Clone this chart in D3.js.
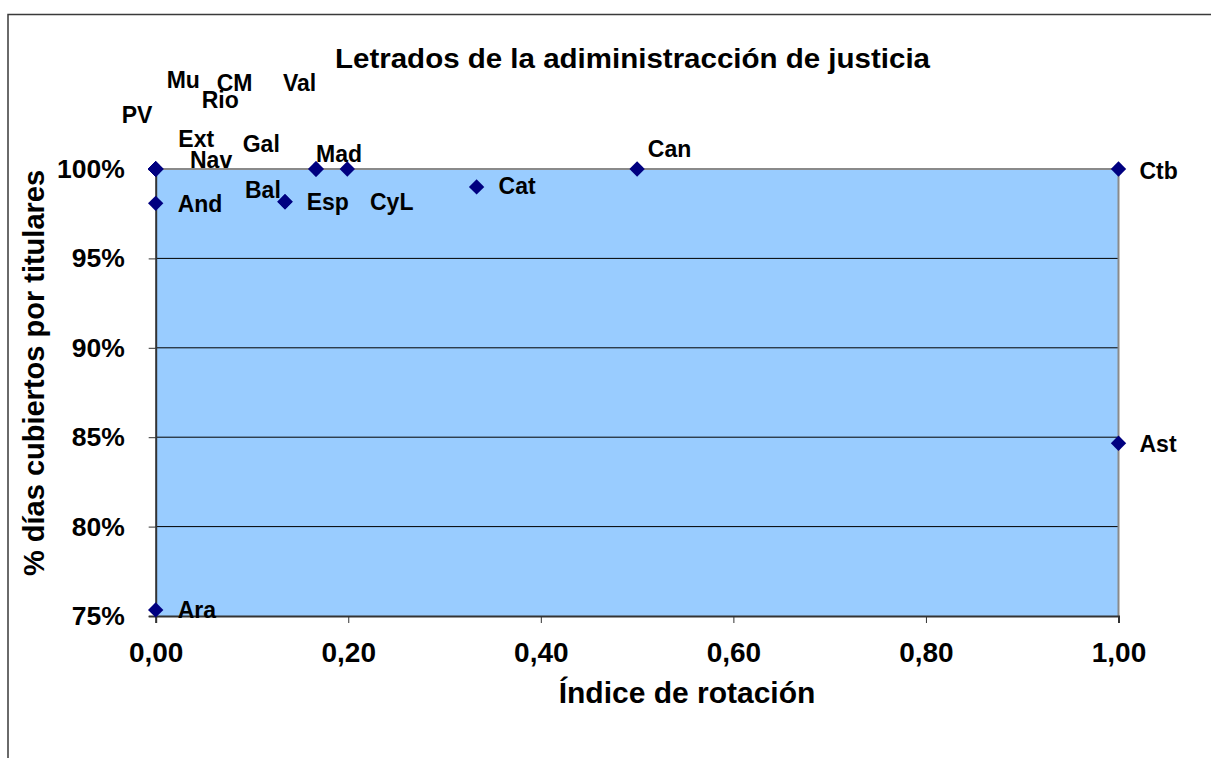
<!DOCTYPE html>
<html>
<head>
<meta charset="utf-8">
<script src="https://cdn.jsdelivr.net/npm/d3@7"></script>
<style>
  html, body { margin: 0; padding: 0; background: #ffffff; }
  svg { display: block; }
  text { font-family: "Liberation Sans", Arial, sans-serif; font-weight: bold; fill: #000; }
</style>
</head>
<body>
<svg id="chart" width="1211" height="758"></svg>
<script>
// Regions (data labels), rotation index and % of days covered by permanent staff
const regions  = ["PV", "Mu", "Ext", "Nav", "Rio", "CM", "Gal", "Val", "Mad", "CyL", "Bal", "Esp", "And", "Cat", "Can", "Ctb", "Ast", "Ara"];
const rotation = [0, 0, 0, 0, 0, 0, 0.1665, 0.1665, 0.1665, 0.199, 0.1343, 0.1343, 0, 0.3333, 0.5, 1, 1, 0];
const covered  = [1, 1, 1, 1, 1, 1, 1, 1, 1, 1, 0.9817, 0.9817, 0.9808, 0.990, 1, 1, 0.8466, 0.7534];

// Label placement relative to each point (pixels)
const labelDx = [-34, 11, 22.6, 34.3, 46, 61, -73.3, -33, 0, 22.7, -40, 21.7, 22, 22, 10.7, 21, 21, 22];
const labelDy = [-46.3, -81, -22.3, -1, -61, -78.3, -17.3, -78.3, -7.3, 41, -3.4, 8.3, 8.4, 7.3, -12.3, 10, 8.4, 8.4];

const xTicks = [0, 0.2, 0.4, 0.6, 0.8, 1.0];
const yTicks = [0.75, 0.80, 0.85, 0.90, 0.95, 1.00];

const title  = "Letrados de la adiministracción de justicia";
const xTitle = "Índice de rotación";
const yTitle = "% días cubiertos por titulares";

const svg = d3.select("#chart");
const plot = { left: 155.7, right: 1118.5, top: 169, bottom: 616 };

const x = d3.scaleLinear().domain([0, 1]).range([plot.left, plot.right]);
const y = d3.scaleLinear().domain([0.75, 1]).range([plot.bottom, plot.top]);

const fmtX = v => d3.format(".2f")(v).replace(".", ",");
const fmtY = d3.format(".0%");

// Outer chart frame
svg.append("rect")
  .attr("x", 8).attr("y", 14.5)
  .attr("width", 1300).attr("height", 900)
  .attr("fill", "#fff").attr("stroke", "#3a3a3a").attr("stroke-width", 1.5);

// Plot area background
svg.append("rect")
  .attr("x", plot.left).attr("y", plot.top)
  .attr("width", plot.right - plot.left).attr("height", plot.bottom - plot.top)
  .attr("fill", "#99CCFF");

// Horizontal gridlines
svg.append("g")
  .selectAll("line")
  .data(yTicks.filter(t => t > 0.75 && t < 1))
  .join("line")
  .attr("x1", plot.left).attr("x2", plot.right)
  .attr("y1", d => y(d)).attr("y2", d => y(d))
  .attr("stroke", "#000").attr("stroke-width", 1);

// Top and right border of the plot area
svg.append("path")
  .attr("d", `M${plot.left},${plot.top}H${plot.right}V${plot.bottom}`)
  .attr("fill", "none").attr("stroke", "#8a8a8a").attr("stroke-width", 2);

// Y axis
const yAxis = svg.append("g")
  .attr("transform", `translate(${plot.left},0)`)
  .call(d3.axisLeft(y).tickValues(yTicks).tickFormat(fmtY).tickSize(7).tickPadding(24));
yAxis.select(".domain").attr("stroke", "#333").attr("stroke-width", 2);
yAxis.selectAll(".tick line").attr("stroke", "#333");
yAxis.selectAll(".tick text")
  .attr("font-size", 26.5).attr("font-family", "Liberation Sans, Arial, sans-serif")
  .attr("font-weight", "bold").attr("fill", "#000");

// X axis
const xAxis = svg.append("g")
  .attr("transform", `translate(0,${plot.bottom})`)
  .call(d3.axisBottom(x).tickValues(xTicks).tickFormat(fmtX).tickSize(7).tickPadding(0));
xAxis.select(".domain").attr("stroke", "#333").attr("stroke-width", 2);
xAxis.selectAll(".tick line").attr("stroke", "#333");
xAxis.selectAll(".tick text")
  .attr("y", 46).attr("dy", null)
  .attr("font-size", 28).attr("font-family", "Liberation Sans, Arial, sans-serif")
  .attr("font-weight", "bold").attr("fill", "#000");

// Titles
svg.append("text")
  .attr("x", 632.5).attr("y", 68)
  .attr("text-anchor", "middle")
  .attr("font-size", 28)
  .attr("textLength", 595).attr("lengthAdjust", "spacingAndGlyphs")
  .text(title);

svg.append("text")
  .attr("x", 687).attr("y", 703)
  .attr("text-anchor", "middle")
  .attr("font-size", 30)
  .text(xTitle);

svg.append("text")
  .attr("transform", "translate(43.5,373) rotate(-90)")
  .attr("text-anchor", "middle")
  .attr("font-size", 29)
  .text(yTitle);

// Points
const pts = regions.map((r, i) => ({ r, x: rotation[i], y: covered[i], dx: labelDx[i], dy: labelDy[i] }));

svg.append("g")
  .selectAll("path")
  .data(pts)
  .join("path")
  .attr("d", d3.symbol().type(d3.symbolSquare).size(118))
  .attr("transform", d => `translate(${x(d.x)},${y(d.y)}) rotate(45)`)
  .attr("fill", "#000080");

// Data labels
svg.append("g")
  .selectAll("text")
  .data(pts)
  .join("text")
  .attr("x", d => x(d.x) + d.dx)
  .attr("y", d => y(d.y) + d.dy)
  .attr("font-size", 23)
  .text(d => d.r);
</script>
</body>
</html>
